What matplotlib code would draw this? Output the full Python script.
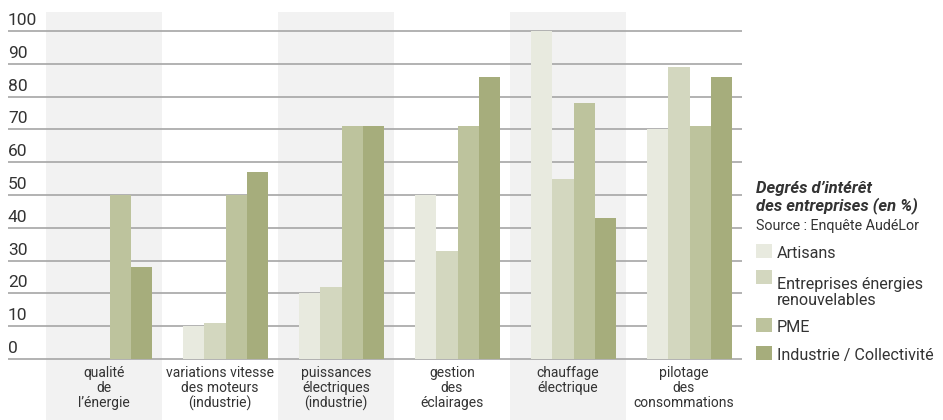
import matplotlib.pyplot as plt
from matplotlib.patches import Rectangle

# survey data: interest of companies (%) per topic and company type
categories = [
    "qualité\nde\nl’énergie",
    "variations vitesse\ndes moteurs\n(industrie)",
    "puissances\nélectriques\n(industrie)",
    "gestion\ndes\néclairages",
    "chauffage\nélectrique",
    "pilotage\ndes\nconsommations",
]
series_names = ["Artisans", "Entreprises énergies\nrenouvelables", "PME", "Industrie / Collectivité"]
artisans = [0, 10, 20, 50, 100, 70]
renouvelables = [0, 11, 22, 33, 55, 89]
pme = [50, 50, 71, 71, 78, 71]
industrie = [28, 57, 71, 86, 43, 86]
yticks = [0, 10, 20, 30, 40, 50, 60, 70, 80, 90, 100]

colors = ["#e8eadf", "#d3d7bf", "#bdc39d", "#a6ad7c"]
band_color = "#f2f2f2"
grid_color = "#a6a6a6"
text_color = "#333333"

plt.rcParams["font.family"] = ["Roboto", "DejaVu Sans"]

W, H = 943, 420
fig = plt.figure(figsize=(W / 100, H / 100), dpi=100)

# axes spans x 8..742 px, y 12..420 px
ax = fig.add_axes([8 / W, 0, 734 / W, 408 / H])
x0 = -38 / 116
ax.set_xlim(x0, 6)
ax.set_ylim(-61 / 3.28, 347 / 3.28)
ax.axis("off")

# alternating background bands, reaching down under the labels
for g in range(0, 6, 2):
    ax.axvspan(g, g + 1, color=band_color, lw=0, zorder=0)

for v in yticks:
    ax.plot([x0, 6], [v, v], color=grid_color, lw=1.2, zorder=1, solid_capstyle="butt")
    ax.text(x0, v + 1.8, str(v), ha="left", va="baseline", fontsize=12.5, color=text_color)

series = [artisans, renouvelables, pme, industrie]
bw = 21.3 / 116
off = 21 / 116
for i, vals in enumerate(series):
    xs = [g + off + i * bw for g in range(6)]
    ax.bar(xs, vals, width=bw, align="edge", color=colors[i], lw=0, zorder=2)

for g, lab in enumerate(categories):
    ax.text(g + 0.5, -2.0, lab, ha="center", va="top", fontsize=10,
            color=text_color, linespacing=1.1)

# legend block on the right
def fx(px):
    return px / W

def fy(py):
    return 1 - py / H

fig.text(fx(756), fy(210), "Degrés d’intérêt\ndes entreprises (en %)", fontsize=12,
         fontweight="bold", fontstyle="italic", color=text_color, va="baseline",
         linespacing=1.05)
fig.text(fx(756), fy(230), "Source : Enquête AudéLor", fontsize=10.3,
         color=text_color, va="baseline")

# (swatch bottom, baseline of last text line)
rows = [(258, 258), (284, 305), (332, 332), (360, 360)]
for (sb, base), name, c in zip(rows, series_names, colors):
    fig.patches.append(Rectangle((fx(756), fy(sb)), 16 / W, 14 / H,
                                 transform=fig.transFigure, color=c, lw=0))
    fig.text(fx(777), fy(base), name, fontsize=11.6, color=text_color,
             va="baseline", linespacing=1.1)

fig.savefig("out.png", dpi=100)
